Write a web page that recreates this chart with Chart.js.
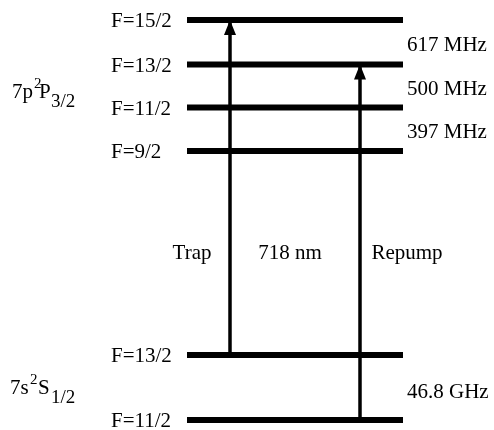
<!DOCTYPE html>
<html>
<head>
<meta charset="utf-8">
<script src="https://cdn.jsdelivr.net/npm/chart.js@4"></script>
<style>
  html, body { margin: 0; padding: 0; background: #fff; }
  canvas { display: block; }
</style>
</head>
<body>
<canvas id="levels" width="494" height="430"></canvas>
<script>
/* Hyperfine level diagram: levels + laser transitions as line datasets on hidden linear scales. */

// energies in diagram units (lower F=11/2 = 0)
const upperLabels = ["F=15/2", "F=13/2", "F=11/2", "F=9/2"];
const upperEnergy = [40.0, 35.55, 31.25, 26.9];
const upperGaps = ["617 MHz", "500 MHz", "397 MHz"];

const lowerLabels = ["F=13/2", "F=11/2"];
const lowerEnergy = [6.5, 0];
const lowerGaps = ["46.8 GHz"];

const transitions = ["Trap", "Repump"];
const transFrom = [0, 1]; // index into lowerEnergy
const transTo = [0, 1];   // index into upperEnergy
const wavelength = "718 nm";

// term symbols: [text, kind] with kind main / sup / sub
const upperTerm = [["7p", "main"], ["2", "sup"], ["P", "main"], ["3/2", "sub"]];
const lowerTerm = [["7s", "main"], ["2", "sup"], ["S", "main"], ["1/2", "sub"]];

// layout (pixels / x units)
const LEVEL_X = [187, 403];
const ARROW_X = [230, 360];
const TRANS_LABEL_X = [192, 407];
const WAVE_X = 290;
const F_LABEL_X = 111;
const GAP_X = 407;
const UPPER_TERM_X = [12, 34, 39, 51];
const LOWER_TERM_X = [10, 30, 38, 51];

const FONT = "Liberation Serif";
const INK = "#000";

function levelSet(energies) {
  return energies.map((e) => ({
    data: [{ x: LEVEL_X[0], y: e }, { x: LEVEL_X[1], y: e }],
    borderColor: INK,
    borderWidth: 6,
    pointRadius: 0,
    showLine: true,
  }));
}

const arrowSets = transitions.map((t, i) => ({
  data: [
    { x: ARROW_X[i], y: lowerEnergy[transFrom[i]] },
    { x: ARROW_X[i], y: upperEnergy[transTo[i]] },
  ],
  borderColor: INK,
  borderWidth: 3.5,
  pointRadius: 0,
  showLine: true,
}));

const annotate = {
  id: "annotate",
  afterDatasetsDraw(chart) {
    const { ctx } = chart;
    const xs = chart.scales.x, ys = chart.scales.y;
    ctx.save();
    ctx.fillStyle = INK;

    // arrowheads at the upper level
    transitions.forEach((t, i) => {
      const px = xs.getPixelForValue(ARROW_X[i]);
      const tip = ys.getPixelForValue(upperEnergy[transTo[i]]);
      ctx.beginPath();
      ctx.moveTo(px, tip);
      ctx.lineTo(px - 6, tip + 15);
      ctx.lineTo(px + 6, tip + 15);
      ctx.closePath();
      ctx.fill();
    });

    ctx.font = `21px "${FONT}"`;
    ctx.textAlign = "left";
    ctx.textBaseline = "alphabetic";

    // F labels
    upperLabels.forEach((l, i) => ctx.fillText(l, F_LABEL_X, ys.getPixelForValue(upperEnergy[i]) + 7));
    lowerLabels.forEach((l, i) => ctx.fillText(l, F_LABEL_X, ys.getPixelForValue(lowerEnergy[i]) + 7));

    // splittings between neighbouring levels
    upperGaps.forEach((g, i) => {
      const mid = (ys.getPixelForValue(upperEnergy[i]) + ys.getPixelForValue(upperEnergy[i + 1])) / 2;
      ctx.fillText(g, GAP_X, mid + 9);
    });
    lowerGaps.forEach((g, i) => {
      const mid = (ys.getPixelForValue(lowerEnergy[i]) + ys.getPixelForValue(lowerEnergy[i + 1])) / 2;
      ctx.fillText(g, GAP_X, mid + 10);
    });

    // transition labels halfway between manifolds
    const gapMid = (ys.getPixelForValue(upperEnergy[upperEnergy.length - 1]) + ys.getPixelForValue(lowerEnergy[0])) / 2;
    ctx.textAlign = "center";
    transitions.forEach((t, i) => ctx.fillText(t, TRANS_LABEL_X[i], gapMid + 6));
    ctx.fillText(wavelength, WAVE_X, gapMid + 6);

    // term symbols
    ctx.textAlign = "left";
    const drawTerm = (parts, xsPos, base) => {
      parts.forEach(([txt, kind], i) => {
        if (kind === "main") { ctx.font = `21px "${FONT}"`; ctx.fillText(txt, xsPos[i], base); }
        else if (kind === "sup") { ctx.font = `15px "${FONT}"`; ctx.fillText(txt, xsPos[i], base - 10); }
        else { ctx.font = `19px "${FONT}"`; ctx.fillText(txt, xsPos[i], base + 9); }
      });
    };
    const upMid = (ys.getPixelForValue(upperEnergy[0]) + ys.getPixelForValue(upperEnergy[upperEnergy.length - 1])) / 2;
    const loMid = (ys.getPixelForValue(lowerEnergy[0]) + ys.getPixelForValue(lowerEnergy[1])) / 2;
    drawTerm(upperTerm, UPPER_TERM_X, upMid + 12);
    drawTerm(lowerTerm, LOWER_TERM_X, loMid + 6);

    ctx.restore();
  },
};

new Chart(document.getElementById("levels"), {
  type: "scatter",
  data: { datasets: [...levelSet(upperEnergy), ...levelSet(lowerEnergy), ...arrowSets] },
  options: {
    responsive: false,
    animation: false,
    layout: { padding: 0 },
    plugins: { legend: { display: false }, tooltip: { enabled: false } },
    scales: {
      x: { type: "linear", min: 0, max: 494, display: false },
      y: { type: "linear", min: -1, max: 42, display: false },
    },
  },
  plugins: [annotate],
});
</script>
</body>
</html>
